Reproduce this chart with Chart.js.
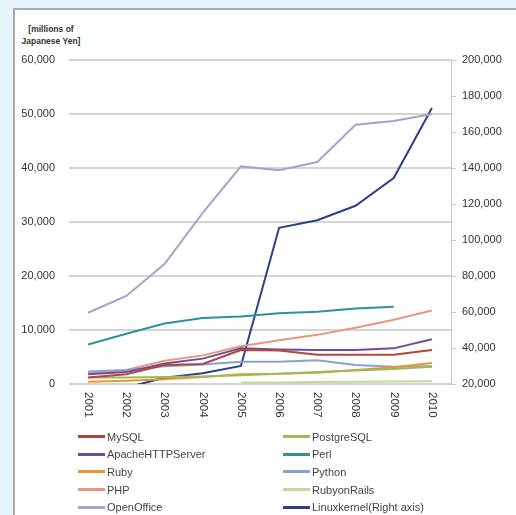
<!DOCTYPE html>
<html>
<head>
<meta charset="utf-8">
<script src="https://cdn.jsdelivr.net/npm/chart.js@4"></script>
<style>
  html, body { margin: 0; padding: 0; }
  body { width: 516px; height: 515px; background: #e6f4fc; position: relative; overflow: hidden; font-family: "Liberation Sans", Arial, sans-serif; }
  #panel { position: absolute; left: 13px; top: 8px; width: 520px; height: 520px; background: #fff; border-left: 2px solid #a9acae; border-top: 2px solid #a9acae; }
  #wrap { position: absolute; left: 0; top: 0; width: 516px; height: 430px; }
  #unit { position: absolute; left: 11px; width: 80px; top: 23px; text-align: center; font-size: 8.5px; font-weight: bold; line-height: 12px; color: #333; }
  #legend { position: absolute; left: 78px; top: 428px; display: grid; grid-template-columns: 205px 200px; row-gap: 0; }
  .item { height: 17.6px; display: flex; align-items: center; font-size: 11px; color: #444; }
  .item span.ln { display: inline-block; width: 27px; height: 3px; margin-right: 2px; }
</style>
</head>
<body>
<div id="panel"></div>
<div id="unit">[millions of<br>Japanese Yen]</div>
<div id="wrap"><canvas id="myChart" width="516" height="430"></canvas></div>
<div id="legend"></div>
<script>
// categorias
var years = ['2001', '2002', '2003', '2004', '2005', '2006', '2007', '2008', '2009', '2010']

// valores (milhoes de yen)
var mysql = [1200, 1800, 3500, 3700, 6300, 6200, 5400, 5400, 5400, 6300]
var postgresql = [1200, 1200, 1300, 1400, 1600, 1900, 2200, 2500, 2800, 3200]
var apache = [1800, 2200, 3800, 4700, 6600, 6400, 6300, 6300, 6600, 8300]
var perl = [7300, 9300, 11200, 12200, 12500, 13100, 13400, 14000, 14300, null]
var ruby = [400, 600, 900, 1300, 1800, 1900, 2100, 2600, 3100, 3900]
var python = [2300, 2600, 3300, 3600, 4100, 4100, 4400, 3500, 3200, 3300]
var php = [2000, 2600, 4300, 5300, 7000, 8100, 9100, 10400, 11900, 13600]
var rubyonrails = [null, null, null, null, 300, 300, 350, 400, 450, 500]
var openoffice = [13200, 16300, 22200, 31700, 40300, 39600, 41100, 48000, 48700, 50000]
// eixo direito
var linux = [null, 18000, 23500, 26000, 30000, 106800, 111000, 119000, 134400, 173300]

var leftTicks = [0, 10000, 20000, 30000, 40000, 50000, 60000]
var rightTicks = [20000, 40000, 60000, 80000, 100000, 120000, 140000, 160000, 180000, 200000]

function serie(label, data, color, axis) {
    return {
        label: label,
        data: data,
        borderColor: color,
        backgroundColor: color,
        borderWidth: 2,
        pointRadius: 0,
        tension: 0,
        yAxisID: axis || 'y'
    }
}

var datasets = [
    serie('MySQL', mysql, '#b5443d'),
    serie('PostgreSQL', postgresql, '#9bbb59'),
    serie('ApacheHTTPServer', apache, '#6b4f96'),
    serie('Perl', perl, '#31909f'),
    serie('Ruby', ruby, '#eb962f'),
    serie('Python', python, '#8e9fd4'),
    serie('PHP', php, '#e8977f'),
    serie('RubyonRails', rubyonrails, '#c0d89a'),
    serie('OpenOffice', openoffice, '#a7a1cc'),
    serie('Linuxkernel(Right axis)', linux, '#2b3f8c', 'y2')
]

function fmt(v) {
    return Number(v).toLocaleString('en-US')
}

var tickFont = { size: 11, family: '"Liberation Sans", Arial' }

// rotulos do eixo x girados 90 graus (horario)
var xLabels = {
    id: 'xLabels',
    afterDraw: function (chart) {
        var ctx = chart.ctx
        var sc = chart.scales.x
        ctx.save()
        ctx.fillStyle = '#333'
        ctx.font = '11.5px "Liberation Sans", Arial, sans-serif'
        ctx.textAlign = 'left'
        ctx.textBaseline = 'middle'
        sc.ticks.forEach(function (t, i) {
            var x = sc.getPixelForTick(i)
            ctx.save()
            ctx.translate(x, sc.top + 8)
            ctx.rotate(Math.PI / 2)
            ctx.fillText(years[i], 0, 0)
            ctx.restore()
        })
        ctx.restore()
    }
}

var myChart = document.getElementById('myChart').getContext('2d')
var chart = new Chart(myChart, {
    type: 'line',
    data: { labels: years, datasets: datasets },
    plugins: [xLabels],
    options: {
        responsive: false,
        animation: false,
        layout: { padding: { top: 60, left: 0, right: 0, bottom: 0 } },
        plugins: { legend: { display: false }, tooltip: { enabled: false } },
        scales: {
            x: {
                offset: true,
                grid: { display: false, drawTicks: false },
                border: { display: false },
                ticks: { display: false },
                afterFit: function (s) { s.height = 46 }
            },
            y: {
                position: 'left',
                min: 0, max: 60000,
                afterBuildTicks: function (s) { s.ticks = leftTicks.map(function (v) { return { value: v } }) },
                grid: { color: '#d4d4d4', lineWidth: 2, drawTicks: false },
                border: { display: false },
                ticks: { color: '#333', font: tickFont, padding: 14, callback: fmt },
                afterFit: function (s) { s.width = 69 }
            },
            y2: {
                position: 'right',
                min: 20000, max: 200000,
                afterBuildTicks: function (s) { s.ticks = rightTicks.map(function (v) { return { value: v } }) },
                grid: { drawOnChartArea: false, color: '#c8c8c8', tickLength: 5 },
                border: { display: true, color: '#c8c8c8', width: 1 },
                ticks: { color: '#333', font: tickFont, padding: 6, callback: fmt },
                afterFit: function (s) { s.width = 65 }
            }
        }
    }
})

// legenda em duas colunas
var leg = document.getElementById('legend')
chart.data.datasets.forEach(function (d) {
    var it = document.createElement('div')
    it.className = 'item'
    it.innerHTML = '<span class="ln" style="background:' + d.borderColor + '"></span>' + d.label
    leg.appendChild(it)
})
</script>
</body>
</html>
